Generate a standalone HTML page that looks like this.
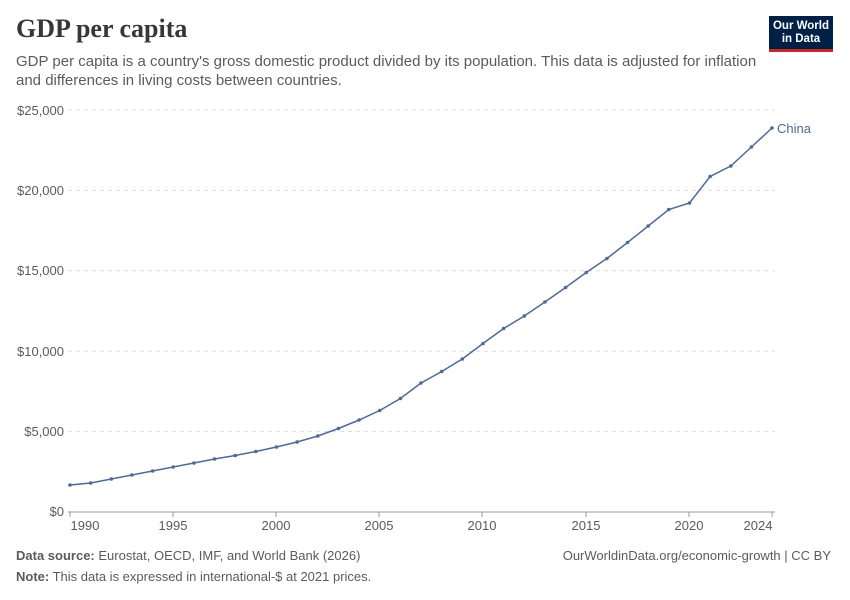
<!DOCTYPE html>
<html><head><meta charset="utf-8"><style>
body{margin:0;background:#fff;width:850px;height:600px;overflow:hidden;font-family:"Liberation Sans",sans-serif}
.t{position:absolute;left:16px;top:14px;font-family:"Liberation Serif",serif;font-size:26px;color:#373737;font-weight:bold}
.s{position:absolute;left:16px;top:52px;font-size:15px;line-height:19px;color:#5b5b5b;width:750px}
.logo{position:absolute;left:769px;top:16px;width:64px;height:36px;background:#002147;border-bottom:3px solid #ce261e;color:#fff;font-size:11.5px;font-weight:bold;text-align:center;line-height:13px;padding-top:4px;box-sizing:border-box}
.f{position:absolute;font-size:13px;color:#5b5b5b}
</style></head><body>
<div class="t">GDP per capita</div>
<div class="s">GDP per capita is a country's gross domestic product divided by its population. This data is adjusted for inflation and differences in living costs between countries.</div>
<div class="logo">Our World<br>in Data</div>
<svg width="850" height="600" style="position:absolute;left:0;top:0" font-family="Liberation Sans, sans-serif" font-size="13" fill="#5b5b5b">
<g stroke="#ddd" stroke-dasharray="4,4">
<line x1="68" x2="775" y1="110" y2="110"/><line x1="68" x2="775" y1="190.4" y2="190.4"/><line x1="68" x2="775" y1="270.8" y2="270.8"/><line x1="68" x2="775" y1="351.2" y2="351.2"/><line x1="68" x2="775" y1="431.6" y2="431.6"/>
</g>
<line x1="68" x2="775" y1="512" y2="512" stroke="#999"/>
<g text-anchor="end"><text x="64" y="115">$25,000</text><text x="64" y="195">$20,000</text><text x="64" y="275">$15,000</text><text x="64" y="356">$10,000</text><text x="64" y="436">$5,000</text><text x="64" y="516">$0</text></g>
<g stroke="#999"><line x1="70" x2="70" y1="512" y2="517"/><line x1="173" x2="173" y1="512" y2="517"/><line x1="276" x2="276" y1="512" y2="517"/><line x1="379" x2="379" y1="512" y2="517"/><line x1="482" x2="482" y1="512" y2="517"/><line x1="586" x2="586" y1="512" y2="517"/><line x1="689" x2="689" y1="512" y2="517"/><line x1="772" x2="772" y1="512" y2="517"/></g>
<g text-anchor="middle"><text x="85" y="530">1990</text><text x="173" y="530">1995</text><text x="276" y="530">2000</text><text x="379" y="530">2005</text><text x="482" y="530">2010</text><text x="586" y="530">2015</text><text x="689" y="530">2020</text><text x="758" y="530">2024</text></g>
<polyline id="p" fill="none" stroke="#4c6a9c" stroke-width="1.5" points="70,485 90.6,483 111.3,479 131.9,475 152.6,471 173.2,467 193.9,463 214.5,459 235.2,455.5 255.8,451.5 276.5,447 297.1,442 317.8,436 338.4,428.5 359.1,420 379.7,410.5 400.4,398.5 421,383 441.7,371.5 462.3,359 483,343.5 503.6,328.5 524.3,316 544.9,302 565.6,287.5 586.2,272.5 606.9,258.5 627.5,242.5 648.2,226 668.8,209.5 689.5,203 710.1,176.5 730.8,166 751.4,147 772,128"/>
<g fill="#4c6a9c">
<script>/* none */</script>
</g>
<g fill="#4c6a9c">
<circle cx="70" cy="485" r="1.8"/><circle cx="90.6" cy="483" r="1.8"/><circle cx="111.3" cy="479" r="1.8"/><circle cx="131.9" cy="475" r="1.8"/><circle cx="152.6" cy="471" r="1.8"/><circle cx="173.2" cy="467" r="1.8"/><circle cx="193.9" cy="463" r="1.8"/><circle cx="214.5" cy="459" r="1.8"/><circle cx="235.2" cy="455.5" r="1.8"/><circle cx="255.8" cy="451.5" r="1.8"/><circle cx="276.5" cy="447" r="1.8"/><circle cx="297.1" cy="442" r="1.8"/><circle cx="317.8" cy="436" r="1.8"/><circle cx="338.4" cy="428.5" r="1.8"/><circle cx="359.1" cy="420" r="1.8"/><circle cx="379.7" cy="410.5" r="1.8"/><circle cx="400.4" cy="398.5" r="1.8"/><circle cx="421" cy="383" r="1.8"/><circle cx="441.7" cy="371.5" r="1.8"/><circle cx="462.3" cy="359" r="1.8"/><circle cx="483" cy="343.5" r="1.8"/><circle cx="503.6" cy="328.5" r="1.8"/><circle cx="524.3" cy="316" r="1.8"/><circle cx="544.9" cy="302" r="1.8"/><circle cx="565.6" cy="287.5" r="1.8"/><circle cx="586.2" cy="272.5" r="1.8"/><circle cx="606.9" cy="258.5" r="1.8"/><circle cx="627.5" cy="242.5" r="1.8"/><circle cx="648.2" cy="226" r="1.8"/><circle cx="668.8" cy="209.5" r="1.8"/><circle cx="689.5" cy="203" r="1.8"/><circle cx="710.1" cy="176.5" r="1.8"/><circle cx="730.8" cy="166" r="1.8"/><circle cx="751.4" cy="147" r="1.8"/><circle cx="772" cy="128" r="1.8"/>
</g>
<text x="777" y="133" fill="#4c6a9c">China</text>
</svg>
<div class="f" style="left:16px;top:548px"><b>Data source:</b> Eurostat, OECD, IMF, and World Bank (2026)</div>
<div class="f" style="right:19px;top:548px">OurWorldinData.org/economic-growth | CC BY</div>
<div class="f" style="left:16px;top:569px"><b>Note:</b> This data is expressed in international-$ at 2021 prices.</div>
</body></html>
